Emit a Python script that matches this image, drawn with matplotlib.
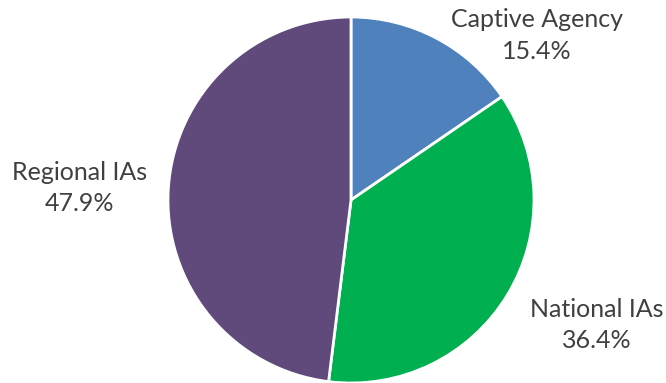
import matplotlib.pyplot as plt

labels = ['Captive Agency', 'National IAs', 'Regional IAs']
shares = [15.4, 36.4, 47.9]
colors = ['#4F81BD', '#00B050', '#604A7B']

# label anchor points in pie data units (radius = 1)
label_pos = [(1.016, 0.900), (1.344, -0.683), (-1.484, 0.066)]

plt.rcParams['font.family'] = ['Lato', 'DejaVu Sans']

fig = plt.figure(figsize=(6.66, 3.83), dpi=100)
ax = fig.add_axes([168 / 666, 0, 366 / 666, 366 / 383])

ax.pie(shares, colors=colors, startangle=90, counterclock=False,
       wedgeprops=dict(edgecolor='white', linewidth=2))
ax.set_xlim(-1, 1)
ax.set_ylim(-1, 1)
ax.set_aspect('equal')

for name, val, (x, y) in zip(labels, shares, label_pos):
    ax.text(x, y, f'{name}\n{val:.1f}%', ha='center', va='center',
            fontsize=18, color='#404040', linespacing=1.45, clip_on=False)

fig.savefig('out.png', dpi=100)
